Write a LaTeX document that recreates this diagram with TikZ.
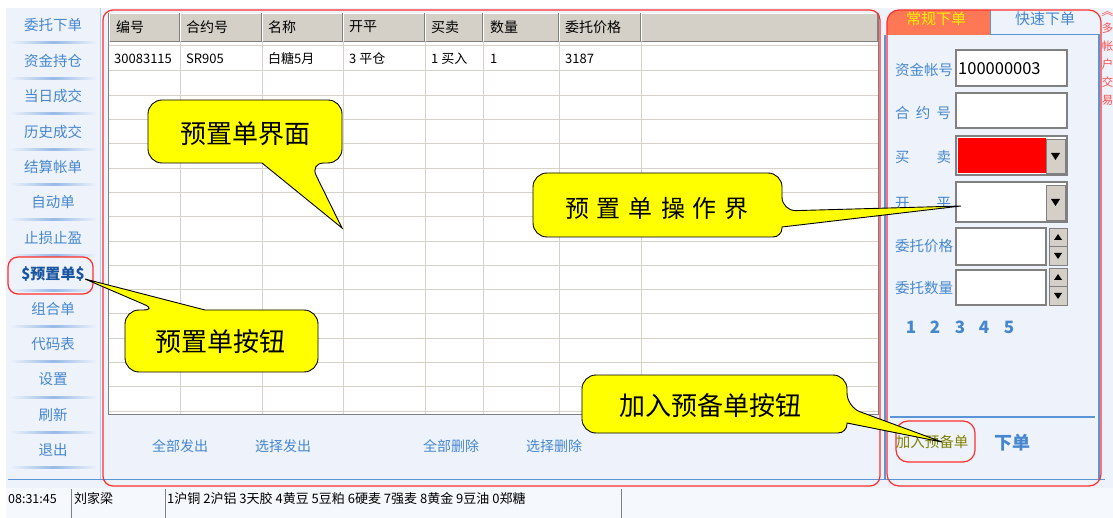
\documentclass[tikz,border=0pt]{standalone}
\usepackage{fontspec}
\setmainfont{Noto Sans CJK SC}
\definecolor{bgblue}{RGB}{238,243,251}
\definecolor{menublue}{RGB}{70,135,205}
\definecolor{darkblue}{RGB}{25,85,160}
\definecolor{sepblue}{RGB}{150,185,230}
\definecolor{gridgray}{RGB}{214,210,202}
\definecolor{headgray}{RGB}{212,208,200}
\definecolor{panelred}{RGB}{255,45,45}
\definecolor{lineblue}{RGB}{90,150,215}
\definecolor{cyellow}{RGB}{255,255,0}
\definecolor{olive}{RGB}{128,128,0}
\definecolor{tabsalmon}{RGB}{255,120,85}
\definecolor{boxgray}{RGB}{128,128,128}
\begin{document}
\begin{tikzpicture}[x=1pt,y=-1pt,
  menuitem/.style={text=menublue, font=\fontsize{14.5}{15}\selectfont, inner sep=0},
  headtxt/.style={anchor=west, text=black, font=\fontsize{14}{14}\selectfont, inner sep=0},
  datatxt/.style={anchor=west, text=black, font=\fontsize{13}{13}\selectfont, inner sep=0},
  btntxt/.style={text=menublue, font=\fontsize{14}{14}\selectfont, inner sep=0},
  formlbl/.style={anchor=west, text=menublue, font=\fontsize{14.5}{15}\selectfont, inner sep=0},
  inbox/.style={fill=white, draw=boxgray, line width=1.5pt},
  btnface/.style={fill=headgray, draw=boxgray, line width=0.6pt},
  redframe/.style={draw=panelred, line width=1.2pt},
  calloutshape/.style={draw=black, fill=cyellow, line width=0.9pt},
  callouttxt/.style={text=black, font=\fontsize{26}{26}\selectfont, inner sep=0},
  stattxt/.style={anchor=west, text=black, font=\fontsize{13}{13}\selectfont, inner sep=0},
  vtxt/.style={text=panelred!85, font=\fontsize{11.5}{12}\selectfont, inner sep=0}
]
\useasboundingbox (0,0) rectangle (1113,518);
\fill[white] (0,0) rectangle (1113,518);
\fill[bgblue] (6,8) rectangle (1113,518);

% ---------- left menu ----------
\draw[sepblue!70, line width=1pt] (100,8) -- (100,479);
\foreach \k in {0,...,12}{
  \shade[left color=bgblue, right color=bgblue, middle color=sepblue] (10,{43+35.4*\k-1}) rectangle (97,{43+35.4*\k+1});
}
\foreach \t [count=\i from 0] in {委托下单,资金持仓,当日成交,历史成交,结算帐单,自动单,止损止盈}{
  \node[menuitem] (m\i) at (53,{25.3+35.4*\i}) {\t};
}
\node[menuitem, text=darkblue, font=\fontsize{15}{15}\selectfont\bfseries] (m7) at (53,274) {\$预置单\$};
\foreach \t [count=\i from 8] in {组合单,代码表,设置,刷新,退出}{
  \node[menuitem] (m\i) at (53,{25.3+35.4*\i}) {\t};
}
\draw[redframe, rounded corners=10pt] (8,257) rectangle (93,294);

% ---------- table ----------
\fill[white] (109,42) rectangle (878,414);
\foreach \a/\b [count=\i] in {109/180,180/262,262/343,343/425,425/483,483/559,559/641,641/878}{
  \fill[headgray] (\a,13) rectangle (\b,42);
  \draw[white, line width=1pt] (\a+0.5,41.5) -- (\a+0.5,13.5) -- (\b-0.5,13.5);
  \draw[boxgray, line width=1pt] (\a+0.5,41.5) -- (\b-0.5,41.5) -- (\b-0.5,13.5);
}
\draw[gridgray, line width=1pt] (109,46) -- (878,46);
\foreach \k in {0,...,14}{
  \draw[gridgray, line width=1pt] (109,{71+24.3*\k}) -- (878,{71+24.3*\k});
}
\foreach \x in {180,262,343,425,483,559,641}{
  \draw[gridgray, line width=1pt] (\x,42) -- (\x,414);
}
\draw[boxgray, line width=1pt] (108,13) -- (108,414) -- (878,414) -- (878,13);
\foreach \x/\t [count=\i] in {116/编号,186/合约号,268/名称,349/开平,431/买卖,490/数量,565/委托价格}{
  \node[headtxt] (h\i) at (\x,27) {\t};
}
\foreach \x/\t [count=\i] in {114/30083115,186/SR905,268/白糖5月,349/3 平仓,431/1 买入,490/1,565/3187}{
  \node[datatxt] (d\i) at (\x,59) {\t};
}
\node[btntxt] (b1) at (180,446) {全部发出};
\node[btntxt] (b2) at (283,446) {选择发出};
\node[btntxt] (b3) at (451,446) {全部删除};
\node[btntxt] (b4) at (554,446) {选择删除};

% ---------- right panel ----------
\begin{scope}
  \clip[rounded corners=12pt] (887,10) rectangle (1101,486);
  \fill[tabsalmon] (887,10) rectangle (990,35);
  \node[text=yellow, font=\fontsize{15}{15}\selectfont, inner sep=0] (tab1) at (936,19) {常规下单};
  \node[text=menublue, font=\fontsize{15}{15}\selectfont, inner sep=0] (tab2) at (1045,19) {快速下单};
\end{scope}
\draw[lineblue, line width=1pt] (990,10) -- (990,35) -- (1100,35);
\draw[lineblue, line width=1.2pt] (885,35) -- (885,480);
\draw[lineblue, line width=1.2pt] (1099,35) -- (1099,480);

\node[formlbl] (l1) at (895,70) {资金帐号};
\node[formlbl] (l2) at (895,113) {\makebox[56pt][s]{合\hfill 约\hfill 号}};
\node[formlbl] (l3) at (895,157) {\makebox[56pt][s]{买\hfill 卖}};
\node[formlbl] (l4) at (895,203) {\makebox[56pt][s]{开\hfill 平}};
\node[formlbl] (l5) at (895,246) {委托价格};
\node[formlbl] (l6) at (895,288) {委托数量};

\draw[inbox] (956,50) rectangle (1067,86);
\node[anchor=west, inner sep=0, font=\fontsize{16.5}{16.5}\selectfont] (acct) at (958,69) {100000003};
\draw[inbox] (956,93) rectangle (1067,128);
\draw[inbox] (956,136) rectangle (1067,175);
\fill[red] (958,138) rectangle (1046,173);
\draw[btnface] (1046,139) rectangle (1065,173);
\fill (1051,153) -- (1060,153) -- (1055.5,160) -- cycle;
\draw[inbox] (956,182) rectangle (1067,222);
\draw[btnface] (1046,185) rectangle (1065,220);
\fill (1051,199) -- (1060,199) -- (1055.5,206) -- cycle;
\draw[inbox] (956,228) rectangle (1046,265);
\draw[btnface] (1049,228) rectangle (1067,246.5);
\draw[btnface] (1049,246.5) rectangle (1067,265);
\fill (1054,240) -- (1062,240) -- (1058,234) -- cycle;
\fill (1054,253) -- (1062,253) -- (1058,259) -- cycle;
\draw[inbox] (956,270) rectangle (1046,305);
\draw[btnface] (1049,268) rectangle (1067,286.5);
\draw[btnface] (1049,286.5) rectangle (1067,305);
\fill (1054,280) -- (1062,280) -- (1058,274) -- cycle;
\fill (1054,293) -- (1062,293) -- (1058,299) -- cycle;

\foreach \x/\t [count=\i] in {911/1,935/2,960/3,984/4,1009/5}{
  \node[text=menublue, font=\fontsize{17}{17}\selectfont\bfseries, inner sep=0] (n\i) at (\x,327) {\t};
}
\draw[lineblue, line width=1.2pt] (890,417) -- (1095,417);
\node[text=olive, font=\fontsize{14.5}{15}\selectfont, inner sep=0] (addbtn) at (932,442) {加入预备单};
\draw[redframe, rounded corners=12pt] (896,421) rectangle (975,462);
\node[text=menublue, font=\fontsize{18}{18}\selectfont\bfseries, inner sep=0] (order) at (1012,443) {下单};

% vertical text at the right edge
\node[vtxt, rotate=-90] (v0) at (1107.5,11) {《};
\foreach \y/\t [count=\i] in {28/多,46/帐,64/户,82/交,100/易}{
  \node[vtxt] (v\i) at (1107.5,\y) {\t};
}

% ---------- frames ----------
\draw[lineblue, line width=1.5pt] (8,479.5) -- (1105,479.5);
\draw[redframe, rounded corners=10pt] (103,10) rectangle (880,486);
\draw[redframe, rounded corners=12pt] (887,10) rectangle (1101,486);

% ---------- status bar ----------
\fill[bgblue!60!white] (6,488) rectangle (1113,518);
\foreach \x in {71,165,621}{
  \draw[boxgray, line width=1pt] (\x,489) -- (\x,518);
}
\node[stattxt, font=\fontsize{12.5}{13}\selectfont] (time) at (8,499) {08:31:45};
\node[stattxt] (user) at (74,499) {刘家梁};
\node[stattxt] (goods) at (167,499) {1沪铜 2沪铝 3天胶 4黄豆 5豆粕 6硬麦 7强麦 8黄金 9豆油 0郑糖};

% ---------- callouts ----------
\draw[calloutshape] (148,131) [rounded corners=14pt] -- (148,100) -- (342,100) -- (342,163) -- (310,163)
  [sharp corners] -- (342,228) -- (262,163) -- (240,163)
  [rounded corners=14pt] -- (148,163) -- (148,131) -- cycle;
\node[callouttxt] (c1) at (245,134) {预置单界面};

\draw[calloutshape] (533,205) [rounded corners=14pt] -- (533,173) -- (782,173) -- (782,211)
  [sharp corners] -- (961,206) -- (782,227) -- (782,228)
  [rounded corners=9pt] -- (782,237) [rounded corners=14pt] -- (533,237) -- (533,205) -- cycle;
\node[callouttxt, font=\fontsize{24}{24}\selectfont] (c2) at (657,208) {预\hspace{8pt}置\hspace{8pt}单\hspace{8pt}操\hspace{8pt}作\hspace{8pt}界};

\draw[calloutshape] (318,341) [rounded corners=14pt] -- (318,372) -- (125,372) -- (125,310) -- (157,310)
  [sharp corners] -- (85,279) -- (205,310) -- (230,310)
  [rounded corners=14pt] -- (318,310) -- (318,341) -- cycle;
\node[callouttxt] (c3) at (220,342) {预置单按钮};

\draw[calloutshape] (582,404) [rounded corners=14pt] -- (582,375) -- (847,375) -- (847,407)
  [sharp corners] -- (942,442) -- (847,423) -- (847,424)
  [rounded corners=9pt] -- (847,433) [rounded corners=14pt] -- (582,433) -- (582,404) -- cycle;
\node[callouttxt] (c4) at (710,406) {加入预备单按钮};
\end{tikzpicture}
\end{document}
